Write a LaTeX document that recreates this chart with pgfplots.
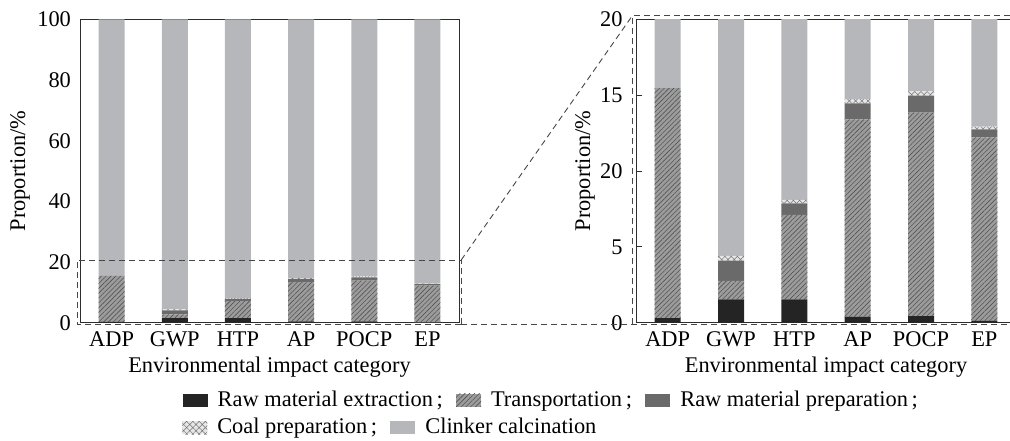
\documentclass[border=0pt]{standalone}
\usepackage{pgfplots}
\pgfplotsset{compat=1.18}
\usepackage{pgfplotstable}
\usetikzlibrary{patterns.meta}
\usepackage{fontspec}
\setmainfont{Liberation Serif}

\definecolor{extr}{RGB}{36,36,36}
\definecolor{transp}{RGB}{156,156,156}
\definecolor{hatchc}{RGB}{84,84,84}
\definecolor{prep}{RGB}{106,106,106}
\definecolor{coal}{RGB}{230,230,230}
\definecolor{clinker}{RGB}{182,183,187}
\definecolor{frame}{RGB}{45,45,45}
\definecolor{zoomline}{RGB}{70,70,70}

% share of each life-cycle stage in every impact category, in percent
\pgfplotstableread{
x cat  extr transp prep coal clinker
0 ADP  0.30 15.17  0.00 0.00 84.53
1 GWP  1.54  1.21  1.34 0.31 95.60
2 HTP  1.54  5.56  0.77 0.22 91.91
3 AP   0.40 13.01  1.05 0.27 85.27
4 POCP 0.44 13.41  1.12 0.28 84.75
5 EP   0.13 12.09  0.53 0.17 87.08
}\stages

\pgfplotsset{
  stageaxis/.style={
    scale only axis,
    width=189.5pt, height=151.7pt,
    ybar stacked, bar width=13pt,
    xmin=-0.5, xmax=5.5, ymin=0,
    xtick=data,
    xticklabels={ADP,GWP,HTP,AP,POCP,EP},
    x tick style={draw=none},
    axis line style={frame},
    font=\fontsize{11.2}{13}\selectfont,
    tick label style={font=\fontsize{11.2}{13}\selectfont},
    /pgf/number format/assume math mode=true,
    xticklabel style={yshift=-1pt},
    xlabel={Environmental impact category},
    xlabel style={at={(axis description cs:0.5,-0.163)}, anchor=base},
    ylabel={Proportion/\%},
    legend style={draw=none, fill=none, inner sep=0pt,
      font=\fontsize{11.2}{13}\selectfont,
      nodes={inner xsep=2.6pt, inner ysep=0pt},
      /tikz/every odd column/.append style={column sep=2.4pt},
      /tikz/every even column/.append style={column sep=4pt}},
    legend image code/.code={
      \path[#1] (0pt,-3.3pt) rectangle (12.5pt,3.3pt);
    },
  },
  s-extr/.style={fill=extr, draw=none},
  s-transp/.style={fill=transp, draw=none,
    postaction={pattern color=hatchc,
      pattern={Lines[angle=45,distance=1.7pt,line width=0.3pt]}}},
  s-prep/.style={fill=prep, draw=none},
  s-coal/.style={fill=coal, draw=none,
    postaction={pattern color=hatchc!80,
      pattern={Hatch[angle=45,distance=2.2pt,line width=0.25pt]}}},
  s-clinker/.style={fill=clinker, draw=none},
}

\begin{document}
\begin{tikzpicture}
\useasboundingbox (0,0) rectangle (505pt,220pt);
\clip (0,0) rectangle (505pt,220pt);

% full scale
\begin{axis}[stageaxis, name=full,
  at={(40pt,58.65pt)}, anchor=south west,
  ymax=100, ytick={0,20,...,100},
  y tick style={draw=none},
  yticklabel style={xshift=-1pt},
  ylabel style={at={(axis description cs:-0.158,0.5)}, anchor=center},
  legend columns=3,
  legend style={at={(axis description cs:0.27,-0.256)}, anchor=west},
]
\addplot[s-extr] table[x=x, y=extr] {\stages};
\addlegendentry{Raw material extraction\,;}
\addplot[s-transp] table[x=x, y=transp] {\stages};
\addlegendentry{Transportation\,;}
\addplot[s-prep] table[x=x, y=prep] {\stages};
\addlegendentry{Raw material preparation\,;}
\addplot[s-coal] table[x=x, y=coal] {\stages};
\addplot[s-clinker] table[x=x, y=clinker] {\stages};
\end{axis}

% detail of the lowest 20 %
\begin{axis}[stageaxis, name=detail,
  at={(318pt,58.65pt)}, anchor=south west,
  width=190pt,
  ymax=20, ytick={0,5,10,15,20},
  yticklabels={0,5,20,15,20},
  tick align=inside, major tick length=2.8pt,
  y tick style={frame, line width=0.4pt},
  yticklabel style={xshift=-3.2pt},
  ylabel style={at={(axis description cs:-0.134,0.5)}, anchor=center},
  legend columns=2,
  legend style={at={(axis description cs:-1.195,-0.346)}, anchor=west},
]
\addplot[s-extr, forget plot] table[x=x, y=extr] {\stages};
\addplot[s-transp, forget plot] table[x=x, y=transp] {\stages};
\addplot[s-prep, forget plot] table[x=x, y=prep] {\stages};
\addplot[s-coal] table[x=x, y=coal] {\stages};
\addlegendentry{Coal preparation\,;}
\addplot[s-clinker] table[x=x, y=clinker] {\stages};
\addlegendentry{Clinker calcination}
\end{axis}

% zoom frame linking the two panels
\begin{scope}[zoomline, line width=0.45pt, dash pattern=on 3pt off 2pt]
  \draw (230.6pt,57.85pt) -- (38.6pt,57.85pt) -- (38.6pt,90pt) -- (230.6pt,90pt) -- cycle;
  \draw (230.6pt,90pt) -- (316.4pt,212.5pt);
  \draw (230.6pt,57.6pt) -- (510pt,57.6pt);
  \draw (510pt,212.5pt) -- (316.4pt,212.5pt) -- (316.4pt,57.6pt);
\end{scope}
\end{tikzpicture}
\end{document}
